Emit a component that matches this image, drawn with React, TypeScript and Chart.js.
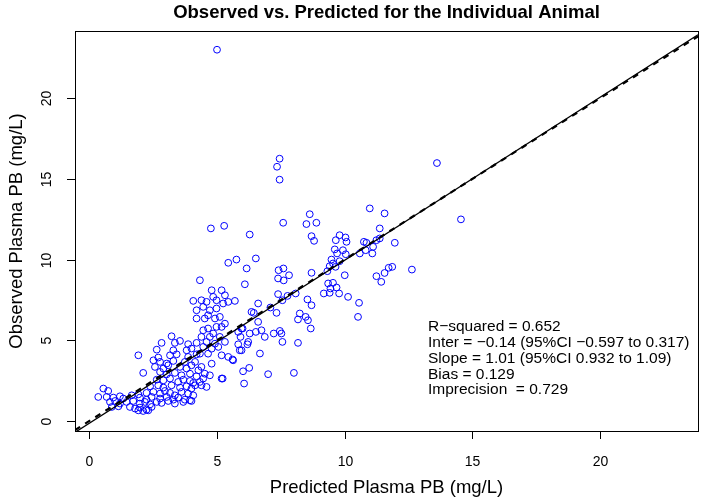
import React, { useEffect, useRef } from "react";
import { Chart, registerables } from "chart.js";

Chart.register(...registerables);

const TITLE = "Observed vs. Predicted for the Individual Animal";
const X_LABEL = "Predicted Plasma PB (mg/L)";
const Y_LABEL = "Observed Plasma PB (mg/L)";
const X_TICKS = [0, 5, 10, 15, 20];
const Y_TICKS = [0, 5, 10, 15, 20];
const X_LIMITS = [-0.56, 23.83];
const Y_LIMITS = [-0.62, 24.16];
const FIT_INTERCEPT = -0.14;
const FIT_SLOPE = 1.01;
const STATS_LINES = [
  "R\u2212squared = 0.652",
  "Inter = \u22120.14 (95%CI \u22120.597 to 0.317)",
  "Slope = 1.01 (95%CI 0.932 to 1.09)",
  "Bias = 0.129",
  "Imprecision  = 0.729",
];

const predicted = [
  4.07, 4.20, 4.20, 3.22, 2.83, 3.35, 3.55, 3.87, 4.20, 2.64, 3.29, 3.81, 4.00, 1.92, 2.70, 3.16, 3.42, 3.87, 4.20, 2.51,
  2.77, 3.03, 3.29, 3.74, 4.14, 2.57, 2.90, 3.09, 3.55, 3.81, 4.00, 4.27, 2.11, 2.77, 3.03, 3.35, 3.61, 3.94, 4.20, 2.64,
  2.90, 3.16, 3.48, 3.68, 3.94, 4.07, 2.38, 2.70, 2.90, 3.22, 3.55, 3.81, 4.00, 4.14, 0.55, 0.74, 1.92, 2.24, 2.51, 2.77,
  2.96, 3.16, 3.35, 3.61, 3.87, 4.07, 0.35, 0.68, 0.94, 1.20, 1.33, 1.66, 1.98, 2.24, 2.44, 2.77, 3.03, 3.29, 3.48, 3.74,
  3.94, 0.81, 1.01, 1.20, 1.46, 1.72, 1.98, 2.18, 2.38, 2.64, 2.83, 3.09, 3.35, 3.68, 4.00, 0.88, 1.14, 1.59, 1.79, 1.98,
  2.24, 2.44, 1.92, 2.11, 2.31,
  10.98, 11.56, 8.63, 7.59, 8.50, 8.89, 4.76, 5.28, 6.28, 8.70, 8.80, 9.80, 10.03, 9.65, 10.07, 10.75, 10.85, 11.24, 11.96, 9.61,
  9.93, 9.70, 10.04, 10.59, 10.82, 11.11, 11.08, 5.44, 5.76, 6.52, 6.16, 9.48, 9.54, 9.41, 9.64, 9.32, 9.80, 7.41, 7.60, 7.39,
  7.82, 7.61, 8.70, 10.00, 11.24, 9.35, 9.54, 9.44, 9.68, 9.78, 9.18, 9.41, 10.13, 7.39, 7.76, 8.08, 7.56, 8.54, 8.70, 10.56,
  10.52, 6.61, 7.09, 7.33, 6.35, 6.44, 5.70, 6.09, 5.44, 8.24, 8.47, 8.67, 8.17, 8.56, 6.61, 6.74, 6.00, 6.28, 5.92, 7.46,
  7.52, 7.22, 6.87, 7.56, 8.17, 6.68, 7.00, 8.01, 6.26, 6.02, 6.06, 5.22, 5.61, 5.89, 5.83, 6.19, 4.33,
  4.39, 4.59, 4.79, 4.85, 4.98, 5.18, 5.31, 5.24, 4.46, 4.72, 4.98, 4.65, 4.92, 4.52, 5.11, 5.31, 5.18, 4.98, 4.65, 4.46,
  4.85, 4.39, 4.72, 5.11, 4.59, 4.92, 5.31, 4.46, 4.79, 5.05, 4.33, 4.65, 5.18, 5.44, 5.63, 4.79, 4.39, 4.52, 4.72, 4.46,
  4.33, 4.39, 4.59, 5.18, 5.96, 5.83, 6.22, 5.96, 6.52,
  13.61, 14.55, 11.37, 11.37, 11.86, 11.72, 11.56, 11.43, 12.63,
  5.00, 7.45, 7.35, 7.45,
];

const observed = [
  7.44, 6.86, 6.35, 5.25, 4.84, 4.84, 4.96, 4.76, 4.84, 4.42, 4.38, 4.38, 4.49, 4.07, 3.93, 4.07, 4.13, 3.97, 4.13, 3.76,
  3.66, 3.56, 3.72, 3.66, 3.66, 3.35, 3.25, 3.45, 3.35, 3.25, 3.45, 3.14, 2.98, 3.04, 2.89, 2.98, 2.83, 2.93, 2.77, 2.56,
  2.52, 2.63, 2.42, 2.56, 2.48, 2.36, 2.15, 2.21, 2.07, 2.21, 2.07, 2.15, 2.01, 2.21, 2.01, 1.86, 1.65, 1.74, 1.80, 1.70,
  1.86, 1.74, 1.59, 1.80, 1.70, 1.59, 1.49, 1.49, 1.45, 1.53, 1.39, 1.59, 1.45, 1.32, 1.49, 1.39, 1.49, 1.32, 1.45, 1.32,
  1.28, 1.18, 1.24, 1.08, 1.18, 1.24, 1.08, 1.18, 1.03, 1.18, 1.12, 1.24, 1.08, 1.18, 1.24, 0.87, 0.91, 0.87, 0.77, 0.83,
  0.70, 0.87, 0.66, 0.62, 0.66,
  13.17, 12.86, 12.81, 12.28, 12.20, 12.28, 11.93, 12.09, 11.55, 11.45, 11.16, 11.51, 11.37, 11.20, 11.10, 11.10, 11.04, 11.20, 11.04, 10.63,
  10.58, 10.38, 10.33, 10.38, 10.58, 10.79, 10.38, 9.80, 10.00, 10.07, 9.45, 10.00, 9.76, 9.59, 9.55, 9.28, 9.90, 9.34, 9.45, 8.83,
  9.03, 8.71, 9.18, 9.03, 8.97, 8.52, 8.56, 8.21, 8.27, 7.90, 7.90, 7.94, 7.69, 7.86, 7.75, 7.90, 7.48, 7.53, 7.17, 7.32,
  6.45, 7.28, 7.03, 6.70, 6.76, 6.70, 7.44, 8.47, 7.38, 6.66, 6.45, 5.73, 6.29, 6.24, 6.14, 5.62, 5.73, 5.42, 5.21, 5.58,
  5.42, 5.42, 5.21, 4.90, 4.84, 4.18, 2.90, 2.98, 3.29, 3.08, 2.32, 2.63, 3.81, 4.38, 4.75, 4.75, 8.72,
  7.48, 7.38, 8.10, 7.69, 7.48, 8.10, 7.79, 7.28, 7.07, 6.86, 6.97, 6.55, 6.35, 6.35, 6.45, 6.03, 5.83, 5.83, 5.73, 5.62,
  5.42, 5.21, 5.21, 5.21, 4.90, 4.79, 4.90, 4.59, 4.48, 4.59, 4.17, 4.17, 4.07, 3.97, 3.76, 3.55, 3.35, 2.93, 2.83, 2.63,
  2.42, 2.21, 2.11, 2.63, 5.73, 5.52, 4.90, 4.38, 5.52,
  15.98, 12.49, 11.93, 11.31, 9.55, 9.49, 9.17, 8.62, 9.38,
  23.0, 16.25, 15.75, 14.95,
];

const FONT = '"Liberation Sans", Arial, Helvetica, sans-serif';

const rStylePlugin = {
  id: "rStyle",
  afterDraw(chart: any) {
    const { ctx, chartArea: a, scales } = chart;
    const xs = scales.x;
    const ys = scales.y;
    ctx.save();
    ctx.strokeStyle = "#000";
    ctx.fillStyle = "#000";
    ctx.lineWidth = 1;
    // plot box
    ctx.strokeRect(Math.round(a.left) + 0.5, Math.round(a.top) + 0.5, Math.round(a.right - a.left), Math.round(a.bottom - a.top));
    // x axis ticks
    ctx.font = "14px " + FONT;
    ctx.textAlign = "center";
    ctx.textBaseline = "middle";
    X_TICKS.forEach((v) => {
      const px = Math.round(xs.getPixelForValue(v)) + 0.5;
      ctx.beginPath();
      ctx.moveTo(px, a.bottom);
      ctx.lineTo(px, a.bottom + 8);
      ctx.stroke();
      ctx.fillText(String(v), px, a.bottom + 31);
    });
    Y_TICKS.forEach((v) => {
      const py = Math.round(ys.getPixelForValue(v)) + 0.5;
      ctx.beginPath();
      ctx.moveTo(a.left - 8, py);
      ctx.lineTo(a.left, py);
      ctx.stroke();
      ctx.save();
      ctx.translate(a.left - 28, py);
      ctx.rotate(-Math.PI / 2);
      ctx.fillText(String(v), 0, 0);
      ctx.restore();
    });
    // axis titles
    const cx = (a.left + a.right) / 2;
    const cy = (a.top + a.bottom) / 2;
    ctx.font = "18.5px " + FONT;
    ctx.fillText(X_LABEL, cx, a.bottom + 57);
    ctx.save();
    ctx.translate(a.left - 58, cy);
    ctx.rotate(-Math.PI / 2);
    ctx.fillText(Y_LABEL, 0, 0);
    ctx.restore();
    // main title
    ctx.font = "bold 18.5px " + FONT;
    ctx.fillText(TITLE, cx, 12.5);
    // statistics text
    ctx.font = "15.5px " + FONT;
    ctx.textAlign = "left";
    STATS_LINES.forEach((s, i) => {
      ctx.fillText(s, a.left + 353, a.top + 296 + i * 15.8);
    });
    ctx.restore();
  },
};

export default function App() {
  const canvasRef = useRef<HTMLCanvasElement | null>(null);

  useEffect(() => {
    document.body.style.margin = "0";
    const canvas = canvasRef.current;
    if (!canvas) return;
    const points = predicted.map((p, i) => ({ x: p, y: observed[i] }));
    const identity = X_LIMITS.map((v) => ({ x: v, y: v }));
    const fit = X_LIMITS.map((v) => ({ x: v, y: FIT_INTERCEPT + FIT_SLOPE * v }));
    const chart = new Chart(canvas, {
      type: "scatter",
      data: {
        datasets: [
          {
            type: "line",
            data: identity,
            borderColor: "#000",
            borderWidth: 2.2,
            borderDash: [6, 6],
            pointRadius: 0,
            fill: false,
          } as any,
          {
            type: "line",
            data: fit,
            borderColor: "#000",
            borderWidth: 1.3,
            pointRadius: 0,
            fill: false,
          } as any,
          {
            data: points,
            pointStyle: "circle",
            pointRadius: 3.4,
            pointBorderWidth: 1,
            borderColor: "#0000ff",
            backgroundColor: "rgba(0,0,0,0)",
            pointBackgroundColor: "rgba(0,0,0,0)",
            pointBorderColor: "#0000ff",
          },
        ],
      },
      options: {
        responsive: false,
        animation: false,
        devicePixelRatio: 1,
        layout: { padding: { left: 75, right: 6, top: 31, bottom: 68 } },
        plugins: { legend: { display: false }, tooltip: { enabled: false } },
        events: [],
        scales: {
          x: { type: "linear", display: false, min: X_LIMITS[0], max: X_LIMITS[1] },
          y: { type: "linear", display: false, min: Y_LIMITS[0], max: Y_LIMITS[1] },
        },
      },
      plugins: [rStylePlugin],
    });
    return () => chart.destroy();
  }, []);

  return (
    <div style={{ width: 704, height: 499, background: "#fff" }}>
      <canvas ref={canvasRef} width={704} height={499} style={{ display: "block" }} />
    </div>
  );
}
